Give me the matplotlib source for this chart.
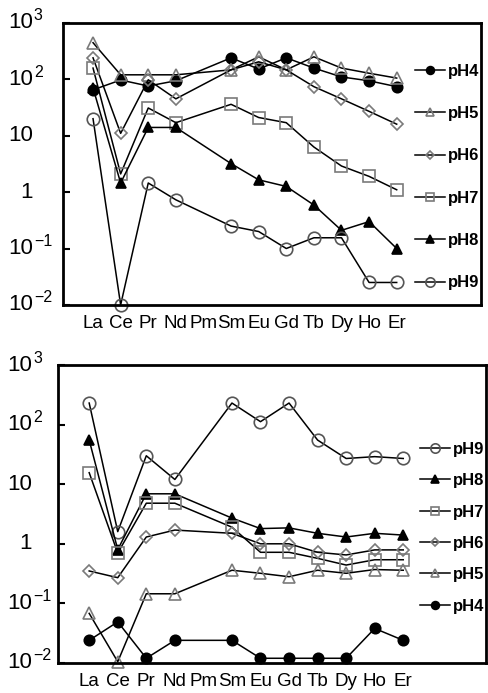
import matplotlib.pyplot as plt
from matplotlib.ticker import NullLocator
from matplotlib.transforms import blended_transform_factory, offset_copy

plt.rcParams['font.family'] = ['Liberation Sans', 'DejaVu Sans']

elements = ['La', 'Ce', 'Pr', 'Nd', 'Pm', 'Sm', 'Eu', 'Gd', 'Tb', 'Dy', 'Ho', 'Er']
# Pm was not measured
measured = ['La', 'Ce', 'Pr', 'Nd', 'Sm', 'Eu', 'Gd', 'Tb', 'Dy', 'Ho', 'Er']

# upper panel
top_ph4 = [65, 97, 76, 94, 240, 152, 240, 158, 110, 94, 74]
top_ph5 = [445, 120, 120, 120, 147, 250, 147, 250, 158, 128, 105]
top_ph6 = [240, 11, 98, 45, 147, 204, 147, 74, 45, 27, 16]
top_ph7 = [158, 2.1, 31, 17, 36, 21, 17, 6.3, 2.9, 1.9, 1.1]
top_ph8 = [70, 1.45, 14, 14, 3.2, 1.65, 1.26, 0.59, 0.21, 0.30, 0.10]
top_ph9 = [20, 0.01, 1.45, 0.73, 0.25, 0.20, 0.10, 0.155, 0.155, 0.025, 0.025]

# lower panel
bot_ph4 = [0.024, 0.049, 0.012, 0.024, 0.024, 0.012, 0.012, 0.012, 0.012, 0.038, 0.024]
bot_ph5 = [0.068, 0.0105, 0.145, 0.145, 0.36, 0.32, 0.28, 0.36, 0.32, 0.37, 0.36]
bot_ph6 = [0.35, 0.27, 1.3, 1.7, 1.5, 1.0, 1.0, 0.72, 0.65, 0.79, 0.79]
bot_ph7 = [15.6, 0.7, 4.8, 4.8, 1.9, 0.72, 0.72, 0.57, 0.44, 0.54, 0.54]
bot_ph8 = [55, 0.8, 6.9, 6.9, 2.7, 1.8, 1.85, 1.5, 1.3, 1.5, 1.4]
bot_ph9 = [230, 1.6, 30, 12, 230, 112, 230, 55, 27, 29, 27]

decades = [-2, -1, 0, 1, 2, 3]

# marker, face, edge, size
styles = {
    'pH4': ('o', 'black', 'black', 7.5),
    'pH5': ('^', 'none', '#7a7a7a', 8.5),
    'pH6': ('D', 'none', '#7a7a7a', 6.0),
    'pH7': ('s', 'none', '#7a7a7a', 8.5),
    'pH8': ('^', 'black', 'black', 7.0),
    'pH9': ('o', 'none', '#555555', 9.0),
}


def draw_panel(ax, series, xlim, lab_x, leg_y, spacing):
    xs = [elements.index(e) for e in measured]
    for name, vals in series:
        m, fc, ec, ms = styles[name]
        ax.plot(xs, vals, color='black', lw=1.1, marker=m, mfc=fc, mec=ec,
                mew=1.2, ms=ms, label=name, clip_on=False)
    ax.set_yscale('log')
    ax.set_ylim(1e-2, 1e3)
    ax.set_xlim(*xlim)
    ax.set_yticks([10.0 ** d for d in decades])
    ax.set_yticklabels([])
    ax.yaxis.set_minor_locator(NullLocator())
    ax.tick_params(axis='y', direction='in', length=5, width=1.5)
    ax.set_xticks(range(len(elements)))
    ax.set_xticklabels(elements, fontsize=13.5)
    ax.tick_params(axis='x', length=0, pad=7)
    for s in ax.spines.values():
        s.set_linewidth(2)

    # y labels: "10" right aligned, exponent hanging to the right
    tr = blended_transform_factory(ax.transAxes, ax.transData)
    sup = offset_copy(tr, fig=ax.figure, x=1, y=7, units='dots')
    for d in decades:
        base = '1' if d == 0 else '10'
        ax.text(lab_x, 10.0 ** d, base, transform=tr, ha='right', va='center', fontsize=16)
        if d not in (0, 1):
            ax.text(lab_x, 10.0 ** d, str(d).replace('-', '\u2212'), transform=sup,
                    ha='left', va='center', fontsize=11.5)

    leg = ax.legend(loc='upper right', bbox_to_anchor=(0.995, leg_y), frameon=False,
                    borderaxespad=0, borderpad=0, handlelength=1.8, handletextpad=0.15,
                    labelspacing=spacing, markerscale=0.75,
                    prop={'size': 12, 'weight': 'bold'})
    return leg


fig = plt.figure(figsize=(4.88, 6.93), dpi=100)
ax1 = fig.add_axes([0.129, 0.560, 0.857, 0.407])
ax2 = fig.add_axes([0.119, 0.0433, 0.877, 0.430])

draw_panel(ax1, [('pH4', top_ph4), ('pH5', top_ph5), ('pH6', top_ph6),
                 ('pH7', top_ph7), ('pH8', top_ph8), ('pH9', top_ph9)],
           (-1.09, 14.06), -0.072, 0.855, 1.64)
draw_panel(ax2, [('pH9', bot_ph9), ('pH8', bot_ph8), ('pH7', bot_ph7),
                 ('pH6', bot_ph6), ('pH5', bot_ph5), ('pH4', bot_ph4)],
           (-1.09, 13.9), -0.061, 0.742, 0.98)

fig.savefig('out.png', dpi=100)
